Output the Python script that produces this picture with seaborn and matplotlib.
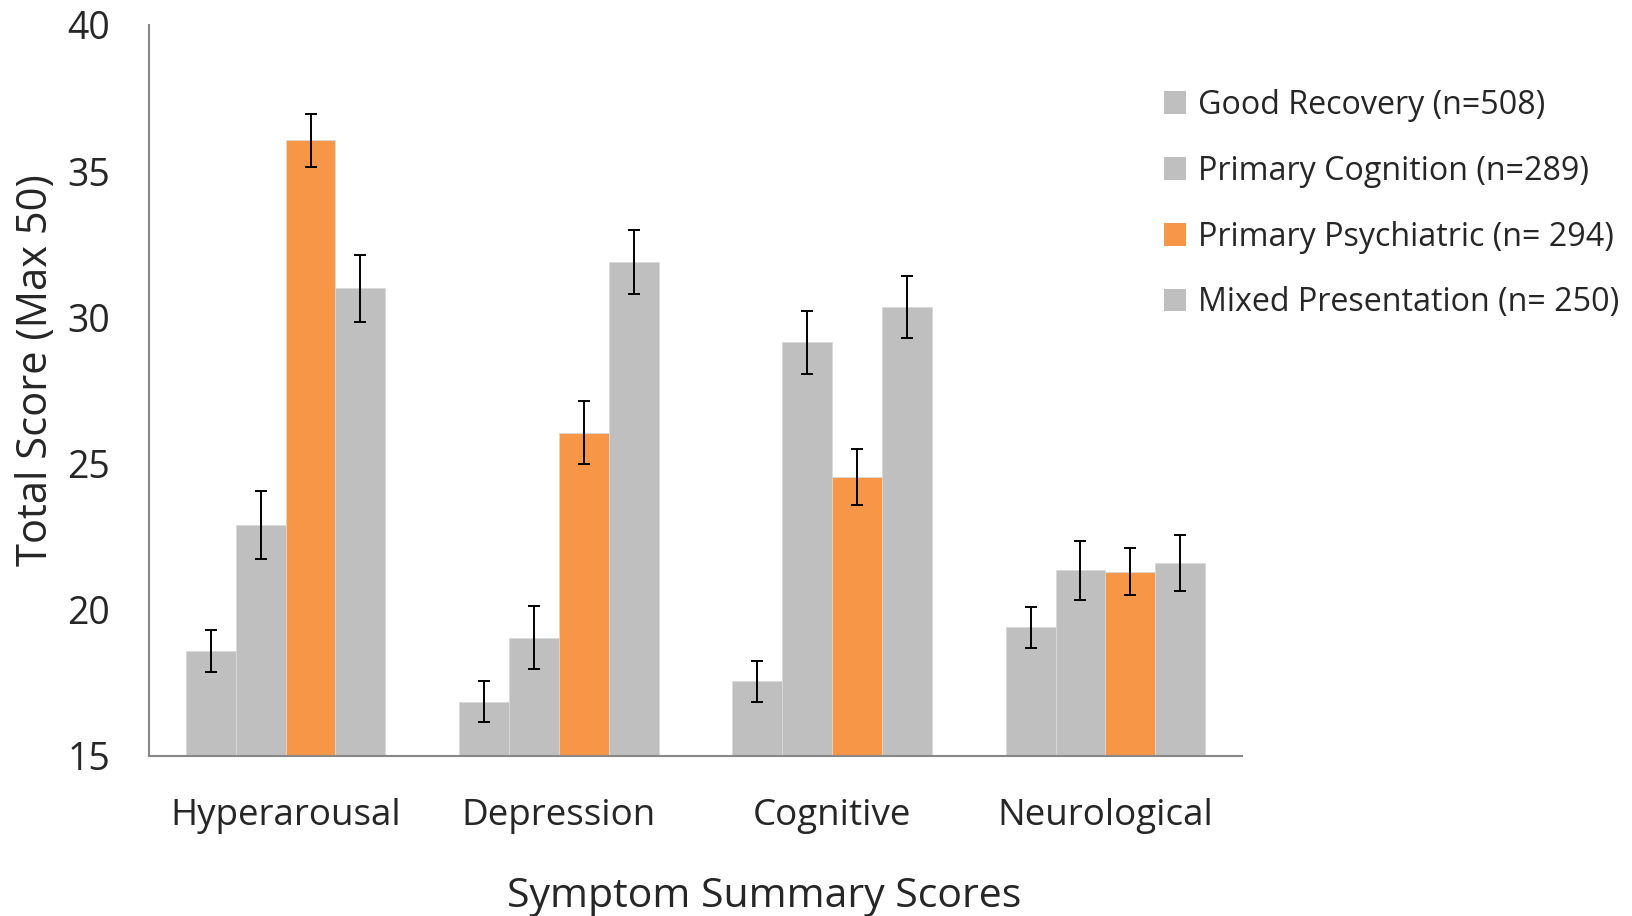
import numpy as np
import pandas as pd
import matplotlib
matplotlib.use("Agg")
import matplotlib.pyplot as plt
import seaborn as sns
from matplotlib.patches import Patch

categories = ["Hyperarousal", "Depression", "Cognitive", "Neurological"]
groups = ["Good Recovery (n=508)", "Primary Cognition (n=289)",
          "Primary Psychiatric (n= 294)", "Mixed Presentation (n= 250)"]

# mean scores per group, in category order
good_recovery = [18.6, 16.85, 17.55, 19.4]
primary_cognition = [22.9, 19.05, 29.15, 21.35]
primary_psychiatric = [36.05, 26.05, 24.55, 21.3]
mixed_presentation = [31.0, 31.9, 30.35, 21.6]

# error bar half-lengths
err_good = [0.72, 0.7, 0.7, 0.7]
err_cog = [1.15, 1.08, 1.07, 1.0]
err_psych = [0.9, 1.08, 0.95, 0.8]
err_mixed = [1.15, 1.1, 1.07, 0.96]

colors = ["#BFBFBF", "#BFBFBF", "#F79646", "#BFBFBF"]

means = [good_recovery, primary_cognition, primary_psychiatric, mixed_presentation]
errs = [err_good, err_cog, err_psych, err_mixed]
df = pd.DataFrame({
    "Category": categories * 4,
    "Group": np.repeat(groups, 4),
    "Score": np.concatenate(means),
    "Err": np.concatenate(errs),
})

sns.set_style("white")
plt.rcParams["font.family"] = ["Open Sans", "DejaVu Sans"]

fig = plt.figure(figsize=(16.33, 9.16), dpi=100)
ax = fig.add_axes([149 / 1633, 1 - 756 / 916, (1242 - 149) / 1633, (756 - 25) / 916])

sns.barplot(data=df, x="Category", y="Score", hue="Group", order=categories,
            hue_order=groups, palette=colors, saturation=1, width=0.73, gap=0,
            errorbar=None, ax=ax, legend=False, edgecolor="#D9D9D9", linewidth=0.6)

# error bars at bar centres
for container, g in zip(ax.containers, groups):
    sub = df[df["Group"] == g].set_index("Category").loc[categories]
    xs = [p.get_x() + p.get_width() / 2 for p in container.patches]
    ax.errorbar(xs, sub["Score"].values, yerr=sub["Err"].values, fmt="none",
                ecolor="black", elinewidth=1.4, capsize=4.3, capthick=1.4, zorder=5)

ax.set_ylim(15, 40)
ax.set_yticks([15, 20, 25, 30, 35, 40])
ax.set_xlim(-0.5, 3.5)
ax.tick_params(axis="x", length=0, labelsize=26.5, pad=30)
ax.tick_params(axis="y", length=0, labelsize=27, pad=28)
for s in ["top", "right"]:
    ax.spines[s].set_visible(False)
for s in ["left", "bottom"]:
    ax.spines[s].set_color("#888888")
    ax.spines[s].set_linewidth(1.5)

ax.set_xlabel("Symptom Summary Scores", fontsize=29.5)
ax.set_ylabel("Total Score (Max 50)", fontsize=30)
ax.xaxis.set_label_coords(0.5625, -0.165)
ax.yaxis.set_label_coords(-0.084, 0.528)

handles = [Patch(facecolor=c, edgecolor="none") for c in colors]
fig.legend(handles, groups, loc="upper left", bbox_to_anchor=(1151 / 1633, 1 - 76 / 916),
           frameon=False, fontsize=23.2, handlelength=0.7, handleheight=0.7,
           handletextpad=0.35, labelspacing=1.02, borderaxespad=0)

fig.savefig("out.png", dpi=100)
